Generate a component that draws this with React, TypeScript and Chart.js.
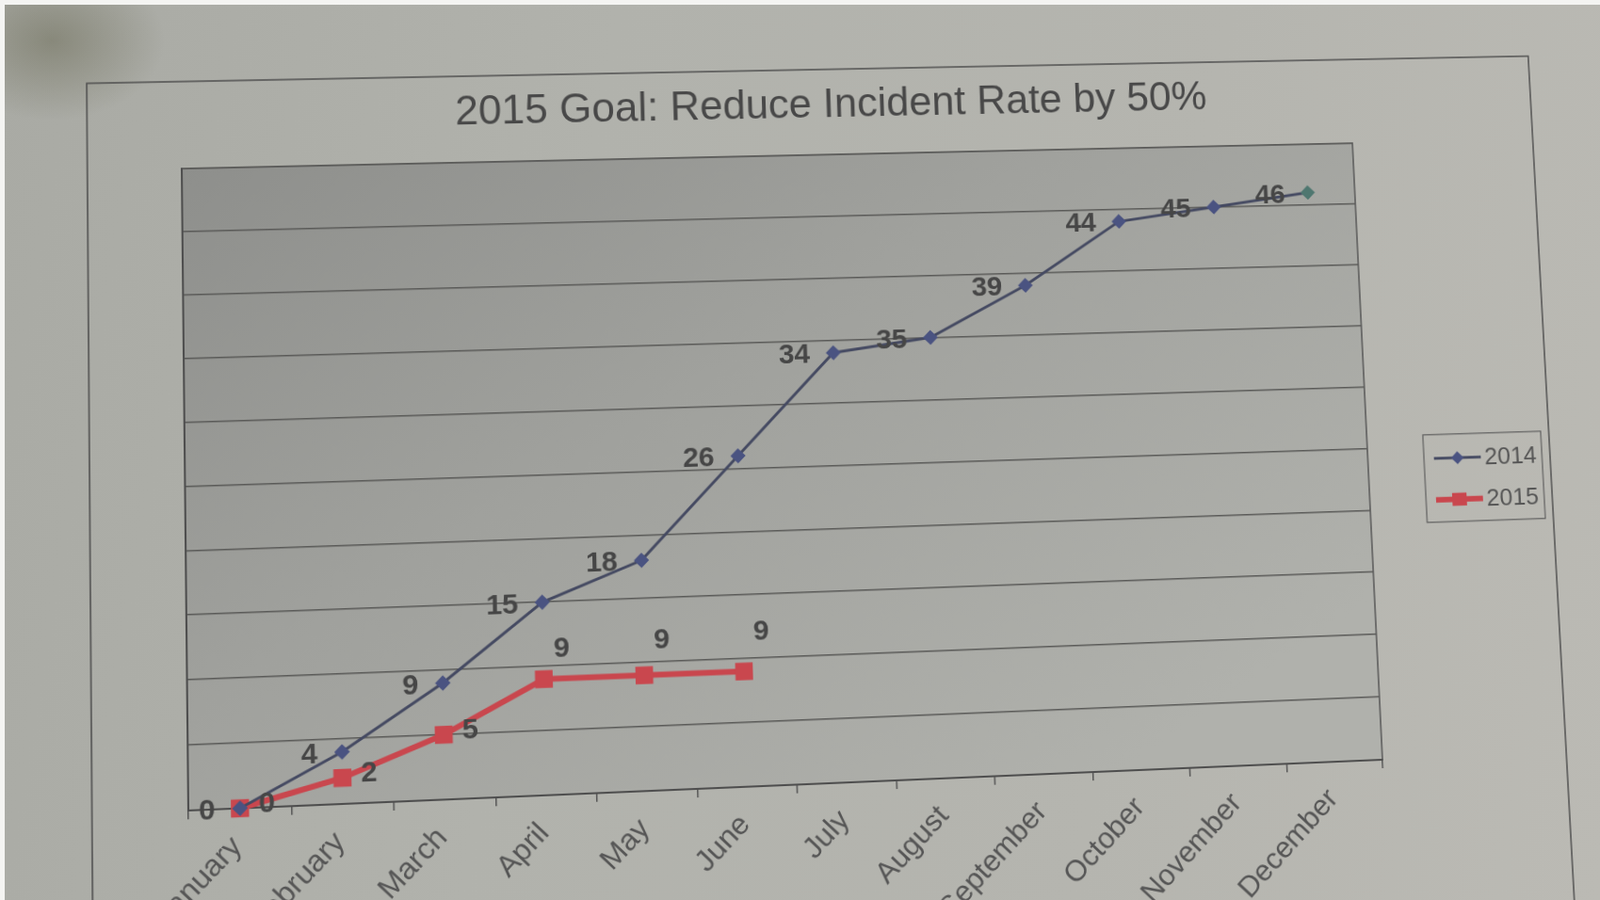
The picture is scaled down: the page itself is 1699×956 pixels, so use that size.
import React, { useEffect, useRef } from 'react';
import { Chart, registerables } from 'chart.js';

Chart.register(...registerables);

// ---------- data ----------
const months = ['January', 'February', 'March', 'April', 'May', 'June', 'July', 'August', 'September', 'October', 'November', 'December'];
const incidents2014 = [0, 4, 9, 15, 18, 26, 34, 35, 39, 44, 45, 46];
const incidents2015 = [0, 2, 5, 9, 9, 9];
const seriesNames = ['2014', '2015'];
const titleText = '2015 Goal: Reduce Incident Rate by 50%';
const yMin = 0;
const yMax = 50;
const yStep = 5;

// ---------- styling / layout ----------
const FONT = "'Liberation Sans', Arial, Helvetica, sans-serif";
const CANVAS_W = 1760;
const CANVAS_H = 1050;
const COLOR_2014 = '#454a62';
const MARK_2014 = '#4a5381';
const MARK_2014_LAST = '#4f7770';
const COLOR_2015 = '#c9474e';
const TEXT = '#484848';

// corners of the plot area as seen in the photographed page (photo perspective)
const PHOTO_PLOT_CORNERS: [number, number][] = [[193, 179], [1436, 152], [1468, 807], [200, 861]];

function solveLinear(A: number[][], b: number[]): number[] {
  const n = b.length;
  const M = A.map((row, i) => [...row, b[i]]);
  for (let c = 0; c < n; c++) {
    let p = c;
    for (let r = c + 1; r < n; r++) if (Math.abs(M[r][c]) > Math.abs(M[p][c])) p = r;
    const tmp = M[c]; M[c] = M[p]; M[p] = tmp;
    for (let r = 0; r < n; r++) {
      if (r === c) continue;
      const f = M[r][c] / M[c][c];
      for (let k = c; k <= n; k++) M[r][k] -= f * M[c][k];
    }
  }
  return M.map((row, i) => row[n] / row[i]);
}

function homographyCss(src: [number, number][], dst: [number, number][]): string {
  const A: number[][] = [];
  const b: number[] = [];
  for (let i = 0; i < 4; i++) {
    const [x, y] = src[i];
    const [u, v] = dst[i];
    A.push([x, y, 1, 0, 0, 0, -x * u, -y * u]); b.push(u);
    A.push([0, 0, 0, x, y, 1, -x * v, -y * v]); b.push(v);
  }
  const [a, bb, c, d, e, f, g, h] = solveLinear(A, b);
  return `matrix3d(${a},${d},0,${g},${bb},${e},0,${h},0,0,1,0,${c},${f},0,1)`;
}

const backdropPlugin = {
  id: 'backdrop',
  beforeDraw(chart: any) {
    const { ctx, chartArea: a } = chart;
    ctx.save();
    // outer chart frame
    ctx.strokeStyle = '#4e4e4e';
    ctx.lineWidth = 1.5;
    ctx.strokeRect(99, 72, 1553, 1200);
    // plot area fill
    const g = ctx.createLinearGradient(a.left, a.top, a.left + a.width * 0.45, a.bottom + 250);
    g.addColorStop(0, '#8e8f8c');
    g.addColorStop(0.45, '#a0a19d');
    g.addColorStop(1, '#b0b1ac');
    ctx.fillStyle = g;
    ctx.fillRect(a.left, a.top, a.width, a.height);
    ctx.strokeStyle = '#555555';
    ctx.lineWidth = 1.5;
    ctx.strokeRect(a.left, a.top, a.width, a.height);
    ctx.restore();
  },
};

const pointLabelPlugin = {
  id: 'pointLabels',
  afterDatasetsDraw(chart: any) {
    const { ctx } = chart;
    ctx.save();
    ctx.font = `bold 30px ${FONT}`;
    ctx.fillStyle = '#464646';
    ctx.textBaseline = 'middle';
    chart.data.datasets.forEach((ds: any, di: number) => {
      const meta = chart.getDatasetMeta(di);
      meta.data.forEach((pt: any, i: number) => {
        const txt = String(ds.data[i]);
        if (di === 0) {
          ctx.textAlign = 'right';
          ctx.fillText(txt, pt.x - 25, pt.y + 2);
        } else if (i < 3) {
          ctx.textAlign = 'left';
          ctx.fillText(txt, pt.x + 19, pt.y - 3);
        } else {
          ctx.textAlign = 'center';
          ctx.fillText(txt, pt.x + 19, pt.y - 31 - (i - 3) * 5);
        }
      });
    });
    ctx.restore();
  },
};

const legendPlugin = {
  id: 'legendBox',
  afterDraw(chart: any) {
    const { ctx, chartArea: a } = chart;
    const x0 = a.right + 62;
    const y0 = a.top + 322;
    const w = 131;
    const h = 95;
    ctx.save();
    ctx.strokeStyle = '#5c5c5c';
    ctx.lineWidth = 1.2;
    ctx.strokeRect(x0, y0, w, h);
    chart.data.datasets.forEach((ds: any, i: number) => {
      const y = y0 + 26 + i * 45;
      ctx.strokeStyle = ds.borderColor;
      ctx.lineWidth = ds.borderWidth;
      ctx.beginPath();
      ctx.moveTo(x0 + 11, y);
      ctx.lineTo(x0 + 63, y);
      ctx.stroke();
      const cx = x0 + 37;
      if (i === 0) {
        ctx.fillStyle = MARK_2014;
        ctx.beginPath();
        ctx.moveTo(cx - 7, y);
        ctx.lineTo(cx, y - 7);
        ctx.lineTo(cx + 7, y);
        ctx.lineTo(cx, y + 7);
        ctx.closePath();
        ctx.fill();
      } else {
        ctx.fillStyle = COLOR_2015;
        ctx.fillRect(cx - 8, y - 7, 16, 14);
      }
      ctx.fillStyle = '#555555';
      ctx.font = `26px ${FONT}`;
      ctx.textAlign = 'left';
      ctx.textBaseline = 'middle';
      ctx.fillText(ds.label, x0 + 67, y + 1);
    });
    ctx.restore();
  },
};

export default function App() {
  const ref = useRef<HTMLCanvasElement>(null);

  useEffect(() => {
    const canvas = ref.current;
    if (!canvas) return;
    const chart = new Chart(canvas, {
      type: 'line',
      data: {
        labels: months,
        datasets: [
          {
            label: seriesNames[0],
            data: incidents2014,
            borderColor: COLOR_2014,
            borderWidth: 3,
            pointStyle: 'rectRot',
            pointRadius: 8,
            pointBorderWidth: 0,
            pointBackgroundColor: (c: any) => (c.dataIndex === incidents2014.length - 1 ? MARK_2014_LAST : MARK_2014),
            pointBorderColor: MARK_2014,
            tension: 0,
            clip: false,
          },
          {
            label: seriesNames[1],
            data: incidents2015,
            borderColor: COLOR_2015,
            borderWidth: 6,
            pointStyle: 'rect',
            pointRadius: 13,
            pointBorderWidth: 0,
            pointBackgroundColor: COLOR_2015,
            pointBorderColor: COLOR_2015,
            tension: 0,
            clip: false,
          },
        ],
      },
      options: {
        responsive: false,
        animation: false,
        devicePixelRatio: 1,
        events: [],
        layout: { padding: { left: 94, right: 82, top: 0, bottom: 0 }, autoPadding: false },
        plugins: {
          legend: { display: false },
          tooltip: { enabled: false },
          title: {
            display: true,
            text: titleText,
            color: TEXT,
            font: { family: FONT, size: 44, weight: 'normal' },
            padding: { top: 85, bottom: 27 },
          },
        },
        scales: {
          x: {
            type: 'category',
            offset: true,
            grid: {
              display: true,
              drawOnChartArea: false,
              drawTicks: true,
              tickLength: 9,
              color: '#555555',
              lineWidth: 1.5,
              offset: true,
            },
            border: { display: true, color: '#4e4e4e', width: 2 },
            ticks: {
              autoSkip: false,
              minRotation: 45,
              maxRotation: 45,
              labelOffset: -3,
              padding: 12,
              color: '#555555',
              font: { family: FONT, size: 31 },
            },
            afterFit: (s: any) => { s.height = 216; },
          },
          y: {
            type: 'linear',
            min: yMin,
            max: yMax,
            ticks: { display: false, stepSize: yStep },
            grid: { color: '#595957', lineWidth: 1.5, drawTicks: false },
            border: { display: true, color: '#4e4e4e', width: 2 },
            afterFit: (s: any) => { s.width = 102; },
          },
          spacer: {
            type: 'linear',
            position: 'right',
            display: true,
            ticks: { display: false },
            grid: { display: false, drawTicks: false },
            border: { display: false },
            afterFit: (s: any) => { s.width = 228; },
          },
        },
      } as any,
      plugins: [backdropPlugin, pointLabelPlugin, legendPlugin],
    });

    const a = chart.chartArea;
    const src: [number, number][] = [[a.left, a.top], [a.right, a.top], [a.right, a.bottom], [a.left, a.bottom]];
    canvas.style.transform = homographyCss(src, PHOTO_PLOT_CORNERS);

    return () => {
      chart.destroy();
    };
  }, []);

  return (
    <div style={{ position: 'fixed', left: 0, top: 0, width: 1699, height: 956, overflow: 'hidden', background: '#f4f4f2' }}>
      <div
        style={{
          position: 'absolute',
          left: 5,
          top: 5,
          right: 0,
          bottom: 0,
          background:
            'radial-gradient(ellipse 120px 85px at 50px 38px, rgba(95,95,72,0.45), rgba(95,95,72,0) 100%), linear-gradient(100deg, #a9aaa4 0%, #b1b2ac 35%, #b5b5af 70%, #bbbab4 100%)',
        }}
      />
      <canvas
        ref={ref}
        width={CANVAS_W}
        height={CANVAS_H}
        style={{ position: 'absolute', left: 0, top: 0, width: CANVAS_W, height: CANVAS_H, transformOrigin: '0 0' }}
      />
    </div>
  );
}
